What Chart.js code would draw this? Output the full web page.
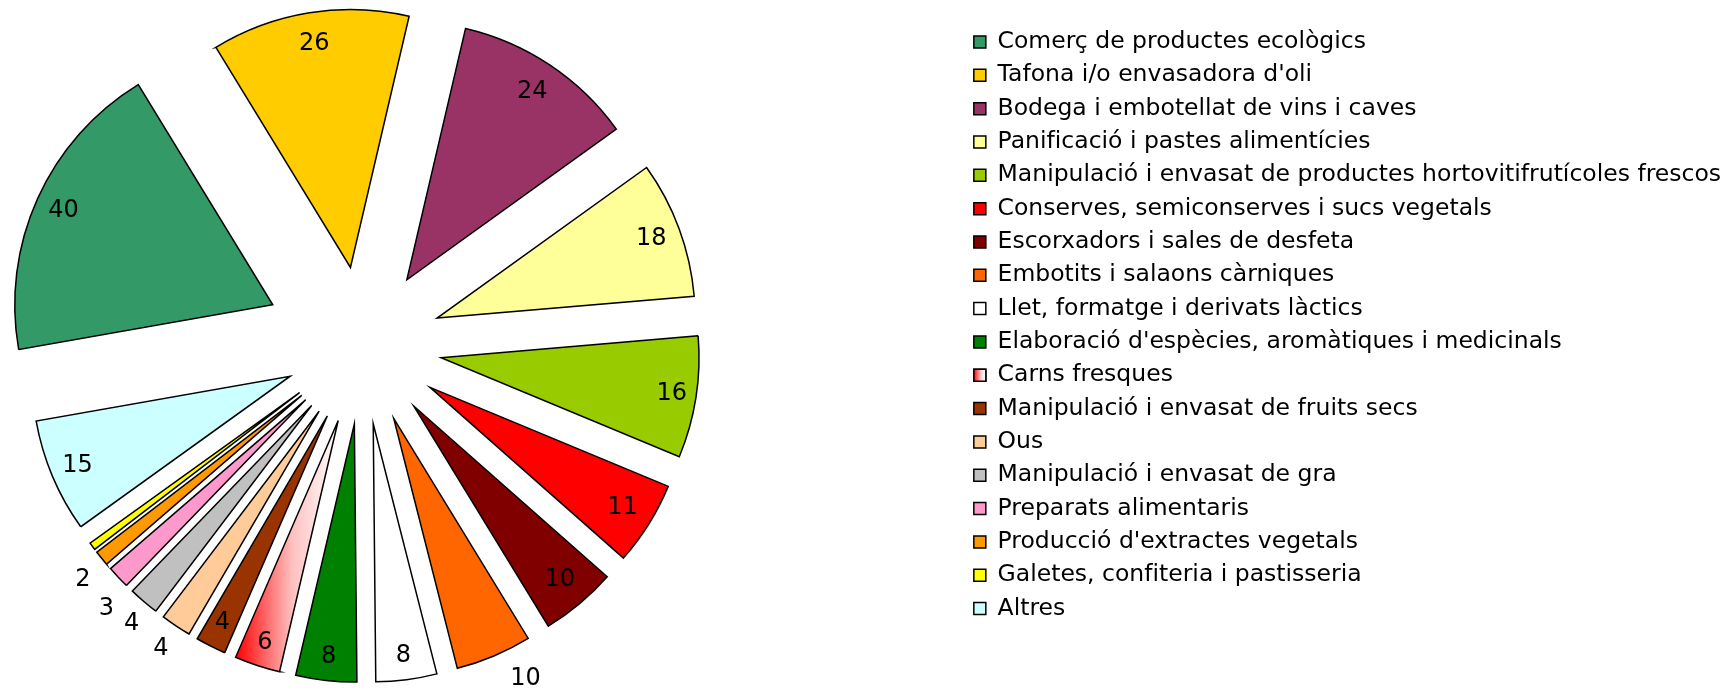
<!DOCTYPE html>
<html lang="ca">
<head>
<meta charset="utf-8">
<title>Indústries agroalimentàries per activitat</title>
<script src="https://cdn.jsdelivr.net/npm/chart.js@4/dist/chart.umd.min.js"></script>
<style>
  html, body { margin: 0; padding: 0; background: #fff; }
  #grafic { display: block; }
</style>
</head>
<body>
<canvas id="grafic" width="1735" height="691"></canvas>
<script>
const categories = [
  'Comerç de productes ecològics',
  "Tafona i/o envasadora d'oli",
  'Bodega i embotellat de vins i caves',
  'Panificació i pastes alimentícies',
  'Manipulació i envasat de productes hortovitifrutícoles frescos',
  'Conserves, semiconserves i sucs vegetals',
  'Escorxadors i sales de desfeta',
  'Embotits i salaons càrniques',
  'Llet, formatge i derivats làctics',
  "Elaboració d'espècies, aromàtiques i medicinals",
  'Carns fresques',
  'Manipulació i envasat de fruits secs',
  'Ous',
  'Manipulació i envasat de gra',
  'Preparats alimentaris',
  "Producció d'extractes vegetals",
  'Galetes, confiteria i pastisseria',
  'Altres'
];
const values = [40, 26, 24, 18, 16, 11, 10, 10, 8, 8, 6, 4, 4, 4, 3, 2, 1, 15];

// colors dels sectors (Carns fresques va amb degradat)
const colors = ['#339966', '#ffcc00', '#993366', '#ffff99', '#99cc00', '#ff0000', '#800000', '#ff6600',
  '#ffffff', '#008000', 'gradient', '#993300', '#ffcc99', '#c0c0c0', '#ff99cc', '#ff9900', '#ffff00', '#ccffff'];

// separació de cada sector respecte del centre (px)
const sliceOffsets = [99, 79, 79, 79, 79, 79, 79, 79, 79, 79, 79, 79, 79, 79, 79, 79, 79, 79];
// etiquetes: fracció del radi i gir en graus (null = sense etiqueta)
const labelRadius = [0.89, 0.88, 0.875, 0.885, 0.905, 0.88, 0.88, 1.13, 0.908, 0.907, 0.906, 0.90, 1.105, 1.095, 1.12, 1.11, null, 0.895];
const labelTurn = [0, 0, 0, 0, 0, 0, 0, -4, 0, 0, 0, 0, 0, -1, -3, -1, 0, 0];

const FONT = 'DejaVu Sans';
const LEGEND_SIZE = 23.5;
const BOX = 12;
const GAP = 238; // espai buit entre el pastís i la llegenda

function degradatCarns(c) {
  const arc = c.element;
  if (!arc || !Number.isFinite(arc.x) || !Number.isFinite(arc.outerRadius)) return '#ff8080';
  const {x, startAngle, endAngle, outerRadius} = arc;
  const xs = [x, x + Math.cos(startAngle) * outerRadius, x + Math.cos(endAngle) * outerRadius];
  const g = c.chart.ctx.createLinearGradient(Math.min(...xs), 0, Math.max(...xs), 0);
  g.addColorStop(0, '#ff0000');
  g.addColorStop(0.55, '#ffc0c0');
  g.addColorStop(1, '#ffffff');
  return g;
}

// caixa buida a la dreta de l'àrea del gràfic, abans de la llegenda
const separador = {
  id: 'separador',
  beforeInit(chart) {
    Chart.layouts.addBox(chart, {
      position: 'right',
      weight: 0,
      fullSize: false,
      options: { display: false },
      isHorizontal() { return false; },
      update(maxWidth, maxHeight) {
        this.width = GAP;
        this.height = maxHeight;
      },
      draw() {}
    });
  }
};

// desplaça cada sector cap enfora (pastís explotat)
const explotar = {
  id: 'explotar',
  afterDatasetUpdate(chart, args) {
    args.meta.data.forEach((arc, i) => {
      const mig = (arc.startAngle + arc.endAngle) / 2;
      arc.x += Math.cos(mig) * sliceOffsets[i];
      arc.y += Math.sin(mig) * sliceOffsets[i];
    });
  }
};

// valors sobre els sectors
const etiquetes = {
  id: 'etiquetes',
  afterDatasetsDraw(chart) {
    const ctx = chart.ctx;
    const arcs = chart.getDatasetMeta(0).data;
    ctx.save();
    ctx.font = `24px "${FONT}"`;
    ctx.fillStyle = '#000';
    ctx.textAlign = 'center';
    ctx.textBaseline = 'middle';
    arcs.forEach((arc, i) => {
      if (labelRadius[i] == null) return;
      const {x, y, startAngle, endAngle, outerRadius} = arc.getProps(['x', 'y', 'startAngle', 'endAngle', 'outerRadius'], true);
      const ang = (startAngle + endAngle) / 2 + labelTurn[i] * Math.PI / 180;
      const r = outerRadius * labelRadius[i];
      ctx.fillText(String(values[i]), x + Math.cos(ang) * r, y + Math.sin(ang) * r);
    });
    ctx.restore();
  },
  // quadre de la llegenda amb degradat
  afterDraw(chart) {
    const i = colors.indexOf('gradient');
    const hb = chart.legend && chart.legend.legendHitBoxes[i];
    if (!hb) return;
    const ctx = chart.ctx;
    const top = hb.top + Math.max((LEGEND_SIZE - BOX) / 2, 0);
    const g = ctx.createLinearGradient(hb.left, 0, hb.left + BOX, 0);
    g.addColorStop(0, '#ff0000');
    g.addColorStop(0.6, '#ffd0d0');
    g.addColorStop(1, '#ffffff');
    ctx.save();
    ctx.fillStyle = g;
    ctx.strokeStyle = '#000';
    ctx.lineWidth = 1.5;
    ctx.beginPath();
    ctx.rect(hb.left, top, BOX, BOX);
    ctx.fill();
    ctx.stroke();
    ctx.restore();
  }
};

const grafic = new Chart(document.getElementById('grafic'), {
  type: 'pie',
  data: {
    labels: categories,
    datasets: [{
      data: values,
      backgroundColor: (c) => colors[c.dataIndex] === 'gradient' ? degradatCarns(c) : colors[c.dataIndex],
      borderColor: '#000',
      borderWidth: 1.5,
      borderJoinStyle: 'miter',
      hoverOffset: 0
    }]
  },
  options: {
    responsive: false,
    animation: false,
    events: [],
    rotation: 260,
    radius: 258,
    layout: {
      padding: { left: 0, right: 11, top: 20.4, bottom: 20.4 }
    },
    plugins: {
      tooltip: { enabled: false },
      legend: {
        position: 'right',
        align: 'start',
        maxWidth: 760,
        labels: {
          boxWidth: BOX,
          boxHeight: BOX,
          padding: 33.33 - LEGEND_SIZE,
          color: '#000',
          font: { family: FONT, size: LEGEND_SIZE }
        }
      }
    }
  },
  plugins: [separador, explotar, etiquetes]
});

// segona passada perquè el degradat prengui la geometria final
grafic.update('none');
</script>
</body>
</html>
